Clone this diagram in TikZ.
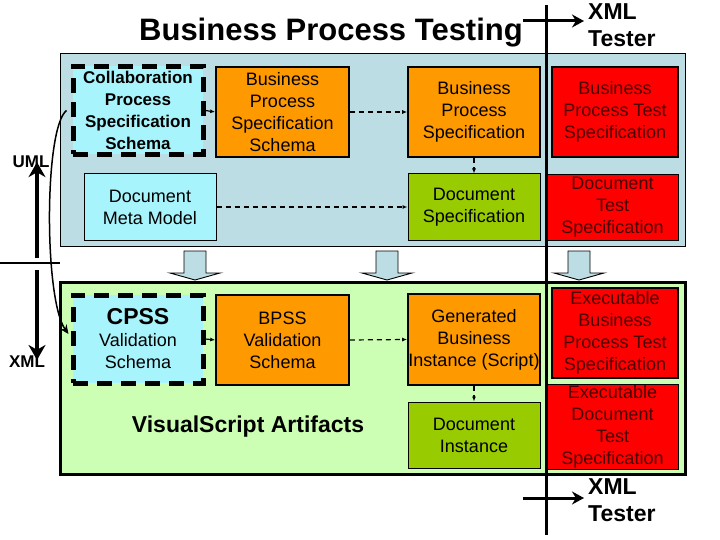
\documentclass[tikz,border=0pt]{standalone}
\usepackage{fontspec}
\setmainfont{Liberation Sans}
\usetikzlibrary{arrows.meta}
\definecolor{panelblue}{HTML}{BDDDE4}
\definecolor{panelgreen}{HTML}{CCFFB4}
\definecolor{cyanbox}{HTML}{A8F4FC}
\definecolor{orangebox}{HTML}{FF9900}
\definecolor{greenbox}{HTML}{99CC00}
\definecolor{redbox}{HTML}{FF0000}
\definecolor{redtext}{HTML}{4A0000}
\tikzset{
  boxtext/.style={inner sep=0pt, align=center, font=\fontsize{18}{22}\selectfont},
  plainbox/.style={boxtext, draw=black, line width=1.6pt},
  orangeb/.style={plainbox, fill=orangebox, minimum width=133pt, minimum height=90pt},
  greenb/.style={plainbox, fill=greenbox, line width=1pt, minimum width=132pt, minimum height=66pt},
  cyanb/.style={plainbox, fill=cyanbox, line width=1pt, minimum width=132pt, minimum height=66pt},
  redb/.style={plainbox, fill=redbox, text=redtext, minimum width=126pt, minimum height=90pt},
  redflat/.style={boxtext, fill=redbox, draw=black, line width=0.6pt, text=redtext, minimum width=131pt},
  dashbox/.style={boxtext, fill=cyanbox, draw=black, line width=5pt, dash pattern=on 15pt off 9pt, minimum width=130pt, minimum height=88pt},
  dashconn/.style={dashed, line width=1.2pt, dash pattern=on 5pt off 4pt, -{Latex[length=5pt,width=4pt]}},
  solidconn/.style={line width=1.2pt, -{Latex[length=5pt,width=4pt]}},
  bigarrow/.style={line width=4pt, -{Stealth[length=15pt,width=17pt]}},
  testerarrow/.style={line width=3pt, -{Stealth[length=12pt,width=13pt]}},
  sidelabel/.style={font=\bfseries\fontsize{17}{20}\selectfont, inner sep=0pt},
  testerlabel/.style={font=\bfseries\fontsize{23}{27}\selectfont, align=left, inner sep=0pt, anchor=north west},
  blockarrow/.pic={\draw[fill=panelblue, line width=0.9pt] (-11,-9) -- (11,-9) -- (11,13) -- (25,13) -- (0,20) -- (-25,13) -- (-11,13) -- cycle;}
}
\begin{document}
\begin{tikzpicture}[x=1pt,y=-1pt]
\useasboundingbox (0,0) rectangle (720,540);
% panels
\node[draw=black, line width=1pt, fill=panelblue, minimum width=625pt, minimum height=192pt, inner sep=0pt] (toppanel) at (372.5,150) {};
\node[draw=black, line width=3pt, fill=panelgreen, minimum width=625pt, minimum height=192pt, inner sep=0pt] (botpanel) at (372.5,378) {};
% title
\node[font=\bfseries\fontsize{31}{34}\selectfont, inner sep=0pt] (title) at (331,33) {Business Process Testing};
% top panel boxes
\node[dashbox, font=\bfseries\fontsize{17}{22}\selectfont] (collab) at (138,110.5) {Collaboration\\Process\\Specification\\Schema};
\node[orangeb] (bpsschema) at (282.5,112) {Business\\Process\\Specification\\Schema};
\node[cyanb] (dmm) at (150,207) {Document\\Meta Model};
\node[orangeb, minimum width=132pt] (bps) at (474,112) {Business\\Process\\Specification};
\node[greenb] (ds) at (474,207) {Document\\Specification};
\node[redb] (bpts) at (615,112) {Business\\Process Test\\Specification};
\node[redflat, minimum height=66pt] (dts) at (612.5,207) {Document\\Test\\Specification};
% bottom panel boxes
\node[dashbox] (cpss) at (138,339) {{\bfseries\fontsize{23}{26}\selectfont CPSS}\\Validation\\Schema};
\node[orangeb] (bpssv) at (282.5,340) {BPSS\\Validation\\Schema};
\node[orangeb, minimum width=132pt, minimum height=91pt] (gen) at (474,339.5) {Generated\\Business\\Instance (Script)};
\node[greenb] (di) at (474,435) {Document\\Instance};
\node[redb] (ebpts) at (615,333) {Executable\\Business\\Process Test\\Specification};
\node[redflat, minimum height=85pt] (edts) at (612.5,426.5) {Executable\\Document\\Test\\Specification};
\node[font=\bfseries\fontsize{23}{26}\selectfont, inner sep=0pt] (vsa) at (248,427) {VisualScript Artifacts};
% connectors
\draw[solidconn] (collab.east) -- (bpsschema.west);
\draw[dashconn] (bpsschema.east) -- (bps.west);
\draw[dashconn] (dmm.east) -- (ds.west);
\draw[dashconn] (bps.south) -- (ds.north);
\draw[solidconn] (cpss.east) -- (bpssv.west);
\draw[dashconn] (bpssv.east) -- (gen.west);
\draw[dashconn] (gen.south) -- (di.north);
\draw[line width=1.5pt, -{Stealth[length=9pt,width=8pt]}] ([xshift=-4pt]collab.west) .. controls (44,128) and (44,300) .. ([xshift=-2pt,yshift=5pt]cpss.west);
% block arrows between panels
\pic at (195,260) {blockarrow};
\pic at (387,260) {blockarrow};
\pic at (579,260) {blockarrow};
% vertical divider
\coordinate (divtop) at (546,5);
\coordinate (divbot) at (546,535);
\draw[line width=3pt] (divtop) -- (divbot);
% XML tester labels
\node[testerlabel] (xmltop) at (588,3) {XML\\Tester};
\node[testerlabel] (xmlbot) at (588,478) {XML\\Tester};
\coordinate (ttop1) at (523,21);
\coordinate (ttop2) at (584,21);
\coordinate (tbot1) at (523,498);
\coordinate (tbot2) at (584,498);
\draw[testerarrow] (ttop1) -- (ttop2);
\draw[testerarrow] (tbot1) -- (tbot2);
% left side UML / XML
\node[sidelabel] (uml) at (31,162) {UML};
\node[sidelabel] (xml) at (27,362) {XML};
\coordinate (hl1) at (0,263);
\coordinate (hl2) at (60,263);
\draw[line width=1.3pt] (hl1) -- (hl2);
\coordinate (up1) at (37,258);
\coordinate (dn1) at (37,270);
\draw[bigarrow] (up1) -- ([yshift=6pt]uml.south -| up1);
\draw[bigarrow] (dn1) -- ([yshift=-4pt]xml.north -| dn1);
\end{tikzpicture}
\end{document}
